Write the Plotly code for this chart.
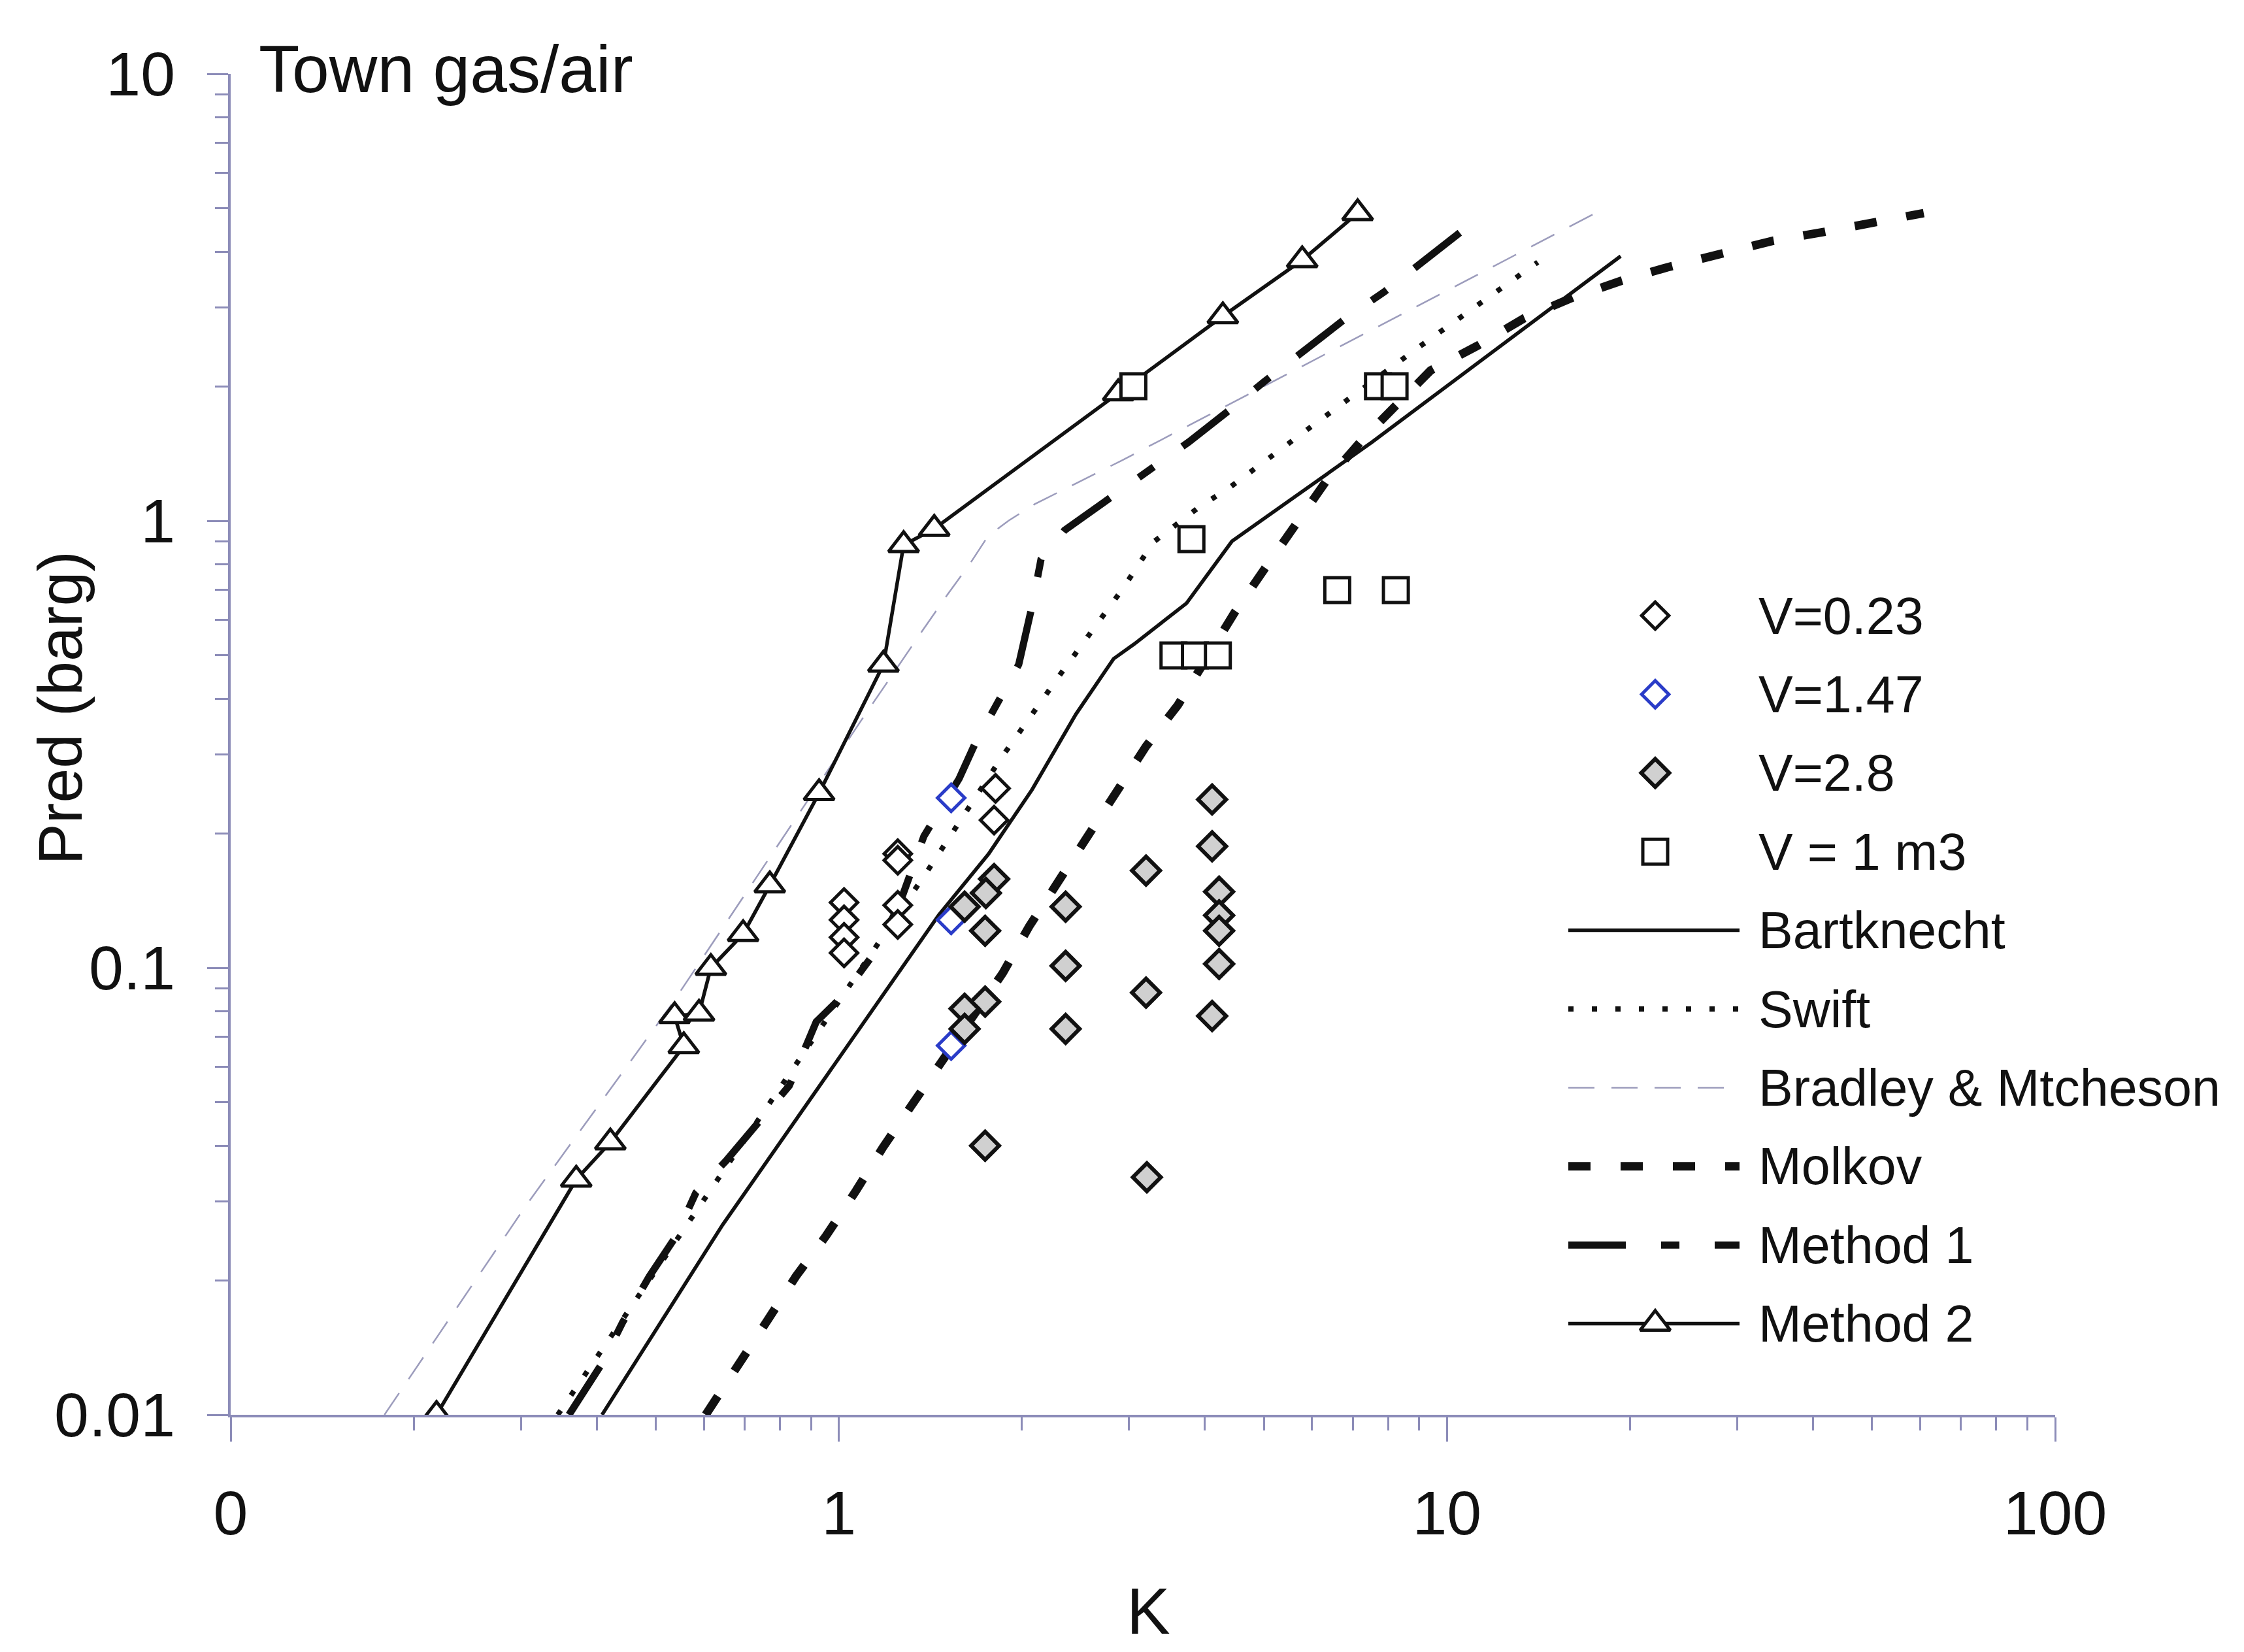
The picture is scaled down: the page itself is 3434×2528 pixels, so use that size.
import plotly.graph_objects as go

FONT = "Liberation Sans, Arial, sans-serif"
INK = "#111111"
AXIS = "#8c8cb8"

# ---- measured points (K, Pred in barg) ---------------------------------
k_v023 = [1.02, 1.02, 1.02, 1.02, 1.25, 1.25, 1.25, 1.25, 1.81, 1.80]
p_v023 = [0.140, 0.128, 0.117, 0.108, 0.180, 0.174, 0.138, 0.125, 0.252, 0.214]

k_v147 = [1.53, 1.53, 1.53]
p_v147 = [0.240, 0.128, 0.067]

k_v28 = [1.80, 1.745, 1.61, 1.74, 1.74, 1.61, 1.61, 1.74,
         2.36, 2.36, 2.36, 3.20, 3.20, 3.21,
         4.11, 4.11, 4.22, 4.22, 4.22, 4.22, 4.11]
p_v28 = [0.158, 0.147, 0.137, 0.121, 0.084, 0.081, 0.073, 0.040,
         0.137, 0.101, 0.073, 0.165, 0.088, 0.034,
         0.238, 0.187, 0.148, 0.131, 0.121, 0.102, 0.078]

k_v1m3 = [3.05, 7.7, 8.2, 3.80, 6.6, 8.24, 3.55, 3.85, 4.2]
p_v1m3 = [2.0, 2.0, 2.0, 0.91, 0.70, 0.70, 0.50, 0.50, 0.50]

# ---- correlations -------------------------------------------------------
k_bart = [0.408, 0.644, 1.46, 1.762, 2.078, 2.454, 2.83, 3.06, 3.73, 4.43, 7.53, 19.3]
p_bart = [0.01, 0.0266, 0.1313, 0.1796, 0.2503, 0.3694, 0.4913, 0.53, 0.654, 0.90, 1.50, 3.91]

k_swift = [0.345, 0.5, 0.75, 1.0, 1.4, 1.85, 2.32, 2.93, 3.29, 3.9, 4.4, 6.0, 9.0, 14.1]
p_swift = [0.01, 0.021, 0.047, 0.084, 0.165, 0.295, 0.456, 0.705, 0.896, 1.07, 1.19, 1.63, 2.45, 3.79]

k_brad = [0.179, 0.306, 0.527, 1.089, 1.366, 1.509, 1.648, 1.76, 1.90, 2.10, 2.92, 18.0]
p_brad = [0.01, 0.0294, 0.0816, 0.358, 0.5627, 0.684, 0.807, 0.925, 1.0, 1.09, 1.365, 4.97]

k_molk = [0.604, 0.691, 0.764, 0.85, 0.952, 1.067, 1.181, 1.314, 1.472, 1.86, 2.056,
          2.864, 3.20, 3.61, 4.48, 5.01, 5.66, 6.31, 7.29, 9.4, 11.2, 13.4, 16.1,
          19.3, 23.0, 28.4, 34.3, 41.7, 50.4, 60.8]
p_molk = [0.01, 0.0131, 0.0163, 0.0204, 0.0251, 0.0317, 0.0396, 0.049, 0.0612, 0.0973, 0.1238,
          0.2466, 0.313, 0.387, 0.625, 0.78, 0.99, 1.22, 1.53, 2.17, 2.46, 2.84, 3.16,
          3.44, 3.69, 3.98, 4.23, 4.43, 4.65, 4.88]

k_m1 = [0.36, 0.409, 0.441, 0.488, 0.54, 0.582, 0.6525, 0.764, 0.829, 0.918, 1.015, 1.15,
        1.256, 1.38, 1.577, 1.676, 1.83, 1.976, 2.078, 2.15, 2.35, 2.82, 3.22, 3.76, 4.39,
        5.01, 6.89, 7.88, 10.74]
p_m1 = [0.01, 0.0131, 0.0161, 0.0204, 0.0251, 0.0314, 0.037, 0.0475, 0.0545, 0.0757, 0.0866, 0.109,
        0.138, 0.197, 0.265, 0.318, 0.393, 0.477, 0.644, 0.82, 0.952, 1.14, 1.30, 1.50, 1.77,
        2.05, 2.87, 3.25, 4.52]

k_m2 = [0.218, 0.370, 0.421, 0.556, 0.537, 0.589, 0.616, 0.696, 0.770, 0.928, 1.184, 1.278,
        1.435, 2.88, 4.28, 5.78, 7.13]
p_m2 = [0.01, 0.0336, 0.0407, 0.0668, 0.078, 0.079, 0.100, 0.119, 0.153, 0.246, 0.477, 0.883,
        0.960, 1.93, 2.87, 3.83, 4.88]

# ---- styles -------------------------------------------------------------
STY_BART = dict(color=INK, width=5.5)
STY_SWIFT = dict(color=INK, width=8, dash="8px,28px")
STY_BRAD = dict(color="#9c9cbc", width=2.5, dash="40px,26px")
STY_MOLK = dict(color=INK, width=13, dash="34px,46px")
STY_M1 = dict(color=INK, width=11, dash="88px,54px,28px,54px")
STY_M2 = dict(color=INK, width=5.5)

MK_V023 = dict(symbol="diamond", size=32, color="white", line=dict(color=INK, width=5))
MK_V147 = dict(symbol="diamond", size=32, color="white", line=dict(color="#2a3cc8", width=5))
MK_V28 = dict(symbol="diamond", size=33, color="#d0d0d0", line=dict(color=INK, width=6))
MK_V1 = dict(symbol="square", size=38, color="white", line=dict(color=INK, width=5))
MK_M2 = dict(symbol="triangle-up", size=40, color="white", line=dict(color=INK, width=5))

fig = go.Figure()

for k, p, sty in [(k_brad, p_brad, STY_BRAD), (k_bart, p_bart, STY_BART),
                  (k_swift, p_swift, STY_SWIFT), (k_molk, p_molk, STY_MOLK),
                  (k_m1, p_m1, STY_M1)]:
    fig.add_trace(go.Scatter(x=k, y=p, mode="lines", line=sty, hoverinfo="skip"))

fig.add_trace(go.Scatter(x=k_m2, y=p_m2, mode="lines+markers", line=STY_M2, marker=MK_M2))
fig.add_trace(go.Scatter(x=k_v023, y=p_v023, mode="markers", marker=MK_V023))
fig.add_trace(go.Scatter(x=k_v147, y=p_v147, mode="markers", marker=MK_V147))
fig.add_trace(go.Scatter(x=k_v28, y=p_v28, mode="markers", marker=MK_V28))
fig.add_trace(go.Scatter(x=k_v1m3, y=p_v1m3, mode="markers", marker=MK_V1))

# ---- hand-built key on a pixel-scaled overlay axis -----------------------
legend_rows = [
    ("V=0.23", "marker", MK_V023),
    ("V=1.47", "marker", MK_V147),
    ("V=2.8", "marker", MK_V28),
    ("V = 1 m3", "marker", MK_V1),
    ("Bartknecht", "line", STY_BART),
    ("Swift", "line", STY_SWIFT),
    ("Bradley & Mtcheson", "line", STY_BRAD),
    ("Molkov", "line", STY_MOLK),
    ("Method 1", "line", STY_M1),
    ("Method 2", "both", (STY_M2, MK_M2)),
]
row_y0, row_dy = 942, 120.4
line_x0, line_x1, mark_x, text_x = 2400, 2662, 2533, 2689

annotations = []
for i, (label, kind, sty) in enumerate(legend_rows):
    yy = row_y0 + i * row_dy
    if kind == "marker":
        fig.add_trace(go.Scatter(x=[mark_x], y=[yy], mode="markers", marker=sty,
                                 xaxis="x2", yaxis="y2", hoverinfo="skip"))
    elif kind == "line":
        fig.add_trace(go.Scatter(x=[line_x0, line_x1], y=[yy, yy], mode="lines", line=sty,
                                 xaxis="x2", yaxis="y2", hoverinfo="skip"))
    else:
        fig.add_trace(go.Scatter(x=[line_x0, line_x1], y=[yy, yy], mode="lines", line=sty[0],
                                 xaxis="x2", yaxis="y2", hoverinfo="skip"))
        fig.add_trace(go.Scatter(x=[mark_x], y=[yy], mode="markers", marker=sty[1],
                                 xaxis="x2", yaxis="y2", hoverinfo="skip"))
    annotations.append(dict(x=text_x, y=yy, xref="x2", yref="y2", text=label,
                            showarrow=False, xanchor="left", yanchor="middle",
                            font=dict(family=FONT, size=79, color=INK)))

annotations += [
    dict(x=0.0147, y=1.032, xref="paper", yref="paper", text="Town gas/air",
         showarrow=False, xanchor="left", yanchor="top",
         font=dict(family=FONT, size=102, color=INK)),
    dict(x=0.503, y=-0.1745, xref="paper", yref="paper", text="K",
         showarrow=False, xanchor="center", yanchor="bottom",
         font=dict(family=FONT, size=100, color=INK)),
    dict(x=-0.0935, y=0.527, xref="paper", yref="paper", text="Pred (barg)",
         showarrow=False, xanchor="center", yanchor="middle", textangle=-90,
         font=dict(family=FONT, size=95, color=INK)),
]

minor_x = [m * 10 ** e for e in (-1, 0, 1) for m in range(2, 10)]
minor_y = [m * 10 ** e for e in (-2, -1, 0) for m in range(2, 10)]

fig.update_layout(
    width=3434, height=2528,
    margin=dict(l=353, r=289, t=113, b=363),
    paper_bgcolor="white", plot_bgcolor="white",
    showlegend=False,
    annotations=annotations,
    xaxis=dict(type="log", range=[-1, 2], showgrid=False, zeroline=False,
               showline=True, linecolor=AXIS, linewidth=4,
               ticks="outside", ticklen=37, tickwidth=3, tickcolor=AXIS,
               tickvals=[0.1, 1, 10, 100], ticktext=["0", "1", "10", "100"],
               ticklabelstandoff=28,
               minor=dict(ticks="outside", ticklen=20, tickwidth=3, tickcolor=AXIS,
                          tickvals=minor_x, showgrid=False),
               tickfont=dict(family=FONT, size=95, color=INK)),
    yaxis=dict(type="log", range=[-2, 1], showgrid=False, zeroline=False,
               showline=True, linecolor=AXIS, linewidth=4,
               ticks="outside", ticklen=32, tickwidth=3, tickcolor=AXIS,
               tickvals=[0.01, 0.1, 1, 10], ticktext=["0.01", "0.1", "1", "10"],
               ticklabelstandoff=30,
               minor=dict(ticks="outside", ticklen=20, tickwidth=3, tickcolor=AXIS,
                          tickvals=minor_y, showgrid=False),
               tickfont=dict(family=FONT, size=95, color=INK)),
    xaxis2=dict(overlaying="x", range=[353, 3145], visible=False, fixedrange=True),
    yaxis2=dict(overlaying="y", range=[2165, 113], visible=False, fixedrange=True),
)

fig.write_html("out.html")
